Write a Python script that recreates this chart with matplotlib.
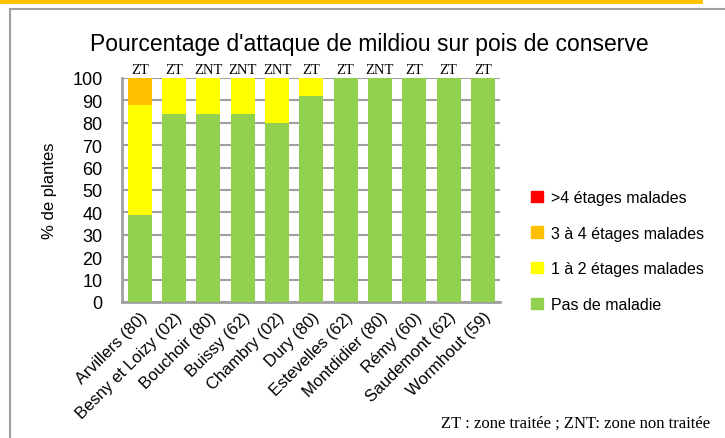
import matplotlib
matplotlib.use("Agg")
import matplotlib.pyplot as plt
from matplotlib.patches import Patch
from matplotlib.lines import Line2D

sites = ["Arvillers (80)", "Besny et Loizy (02)", "Bouchoir (80)", "Buissy (62)",
         "Chambry (02)", "Dury (80)", "Estevelles (62)", "Montdidier (80)",
         "Rémy (60)", "Saudemont (62)", "Wormhout (59)"]
zones = ["ZT", "ZT", "ZNT", "ZNT", "ZNT", "ZT", "ZT", "ZNT", "ZT", "ZT", "ZT"]

pas_maladie = [39, 84, 84, 84, 80, 92, 100, 100, 100, 100, 100]
etages_1_2 = [49, 16, 16, 16, 20, 8, 0, 0, 0, 0, 0]
etages_3_4 = [12, 0, 0, 0, 0, 0, 0, 0, 0, 0, 0]
etages_sup4 = [0, 0, 0, 0, 0, 0, 0, 0, 0, 0, 0]

series = [
    ("Pas de maladie", pas_maladie, "#92D050"),
    ("1 à 2 étages malades", etages_1_2, "#FFFF00"),
    ("3 à 4 étages malades", etages_3_4, "#FFC000"),
    (">4 étages malades", etages_sup4, "#FF0000"),
]

sans = ["Liberation Sans", "DejaVu Sans"]
serif = ["Liberation Serif", "DejaVu Serif"]
plt.rcParams["font.family"] = sans

fig = plt.figure(figsize=(7.25, 4.39), dpi=100)

# frame of the original document
fig.add_artist(Line2D([10 / 725, 10 / 725], [0, 1 - 10 / 439], transform=fig.transFigure,
                      color="#a0a0a0", lw=1.5))
fig.add_artist(Line2D([10 / 725, 1], [1 - 10 / 439, 1 - 10 / 439], transform=fig.transFigure,
                      color="#a0a0a0", lw=1.5))
fig.add_artist(Line2D([0, 0.965], [1 - 1.5 / 439, 1 - 1.5 / 439], transform=fig.transFigure,
                      color="#FFC000", lw=3.5))

ax = fig.add_axes([122 / 725, 1 - 303 / 439, 378 / 725, 224 / 439])

x = range(len(sites))
bottom = [0] * len(sites)
for name, vals, col in series:
    ax.bar(x, vals, bottom=bottom, width=0.7, color=col, zorder=3)
    bottom = [b + v for b, v in zip(bottom, vals)]

ax.set_ylim(0, 100)
ax.set_xlim(-0.52, len(sites) - 0.5)
ax.set_yticks(range(0, 101, 10))
ax.yaxis.grid(True, color="#a0a0a0", lw=1.5, zorder=0)
ax.tick_params(axis="y", labelsize=13, length=0, pad=14)
ax.tick_params(axis="x", length=0, pad=5)
ax.set_xticks(list(x))
ax.set_xticklabels(sites, rotation=45, ha="right", rotation_mode="anchor", fontsize=12)
for s in ["top", "right"]:
    ax.spines[s].set_visible(False)
for s in ["left", "bottom"]:
    ax.spines[s].set_color("#a0a0a0")
    ax.spines[s].set_linewidth(2)

for i, z in enumerate(zones):
    ax.text(i, 101, z, ha="center", va="bottom", fontsize=10.5, family=serif)

ax.set_ylabel("% de plantes", fontsize=12, labelpad=11)

fig.text(369 / 725, 1 - 45 / 439, "Pourcentage d'attaque de mildiou sur pois de conserve",
         ha="center", va="center", fontsize=16.5)

handles = [Patch(color=col, label=name) for name, vals, col in series][::-1]
fig.legend(handles=handles, loc="center left", bbox_to_anchor=(517 / 725, 1 - 252 / 439),
           frameon=False, fontsize=11.5, handlelength=0.7, handleheight=0.7,
           handletextpad=0.5, labelspacing=1.3)

fig.text(441 / 725, 1 - 424 / 439, "ZT : zone traitée ; ZNT: zone non traitée",
         ha="left", va="center", fontsize=12, family=serif)

fig.savefig("out.png", dpi=100)
